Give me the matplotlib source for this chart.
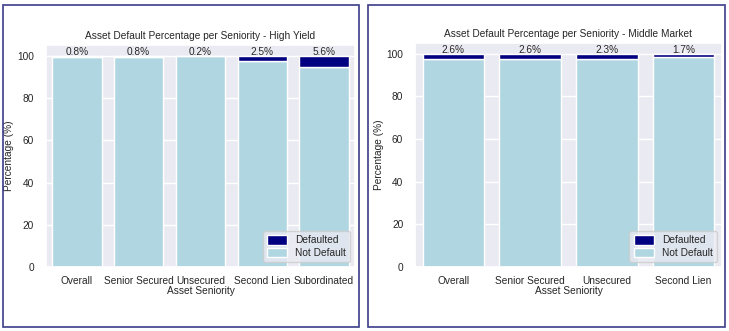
import matplotlib.pyplot as plt
import seaborn as sns
import numpy as np
from matplotlib.patches import Rectangle

# Seniority categories for each portfolio
hy_seniority = ['Overall', 'Senior Secured', 'Unsecured', 'Second Lien', 'Subordinated']
mm_seniority = ['Overall', 'Senior Secured', 'Unsecured', 'Second Lien']
# Default percentages
hy_default_pct = [0.8, 0.8, 0.2, 2.5, 5.6]
mm_default_pct = [2.6, 2.6, 2.3, 1.7]

default_color = 'navy'
not_default_color = '#b0d6e2'

sns.set_theme(style='darkgrid')
plt.rcParams['font.family'] = ['Liberation Sans', 'DejaVu Sans']


def draw_default_chart(ax, seniority, default_pct, title):
    """Stacked bar of not-defaulted vs defaulted share per seniority"""
    defaulted = np.array(default_pct)
    not_default = 100 - defaulted
    x = np.arange(len(seniority))
    ax.bar(x, not_default, width=0.8, color=not_default_color, label='Not Default')
    ax.bar(x, defaulted, width=0.8, bottom=not_default, color=default_color, label='Defaulted')
    # Percent label on top of each bar
    for xi, d in zip(x, defaulted):
        ax.text(xi, 99.5, f'{d:.1f}%', ha='center', va='bottom', fontsize=7.3, color='#262626')
    ax.set_xticks(x)
    ax.set_xticklabels(seniority, fontsize=7.3)
    ax.tick_params(axis='y', labelsize=7.3, pad=2.5)
    ax.tick_params(axis='x', pad=0.5)
    ax.set_xlim(-0.5, len(seniority) - 0.5)
    ax.set_ylim(0, 105)
    ax.set_yticks([0, 20, 40, 60, 80, 100])
    ax.set_xlabel('Asset Seniority', fontsize=7.3, labelpad=0)
    ax.set_ylabel('Percentage (%)', fontsize=7.3, labelpad=2)
    ax.set_title(title, fontsize=7.3, pad=4)
    handles, labels = ax.get_legend_handles_labels()
    ax.legend(handles[::-1], labels[::-1], loc='lower right', fontsize=7.3,
              handlelength=2.0, handleheight=1.0, borderaxespad=0.5, labelspacing=0.25)


fig = plt.figure(figsize=(7.29, 3.31), dpi=100)
fig.patch.set_facecolor('white')

ax1 = fig.add_axes([0.063, 0.193, 0.424, 0.671])
ax2 = fig.add_axes([0.5693, 0.193, 0.421, 0.677])

draw_default_chart(ax1, hy_seniority, hy_default_pct,
                   'Asset Default Percentage per Seniority - High Yield')
draw_default_chart(ax2, mm_seniority, mm_default_pct,
                   'Asset Default Percentage per Seniority - Middle Market')

# Frames around each panel
fig.patches.append(Rectangle((3 / 729, 4 / 331), 356 / 729, 322 / 331, transform=fig.transFigure,
                             fill=False, edgecolor='#3c3c8a', linewidth=1.2))
fig.patches.append(Rectangle((368 / 729, 4 / 331), 357 / 729, 322 / 331, transform=fig.transFigure,
                             fill=False, edgecolor='#3c3c8a', linewidth=1.2))

fig.savefig('out.png', dpi=100)
